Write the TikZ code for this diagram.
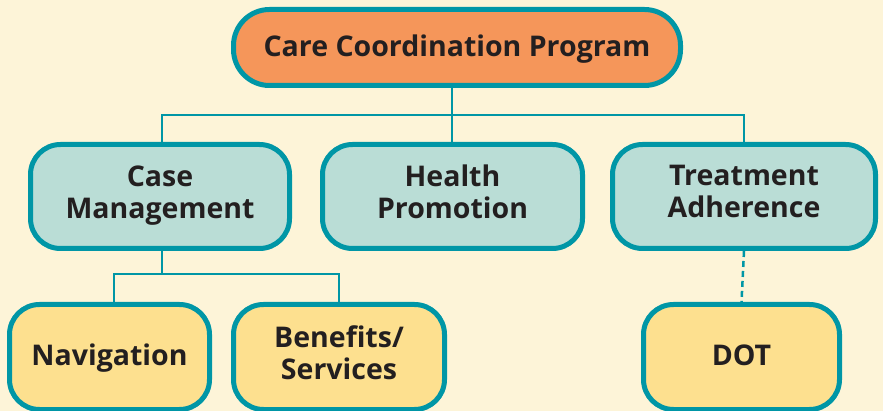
\documentclass[tikz,border=0pt]{standalone}
\usepackage{fontspec}
\setmainfont{Open Sans}
\definecolor{bgc}{HTML}{FDF4D8}
\definecolor{tealb}{HTML}{0096A6}
\definecolor{orangef}{HTML}{F5965A}
\definecolor{midf}{HTML}{BADDD6}
\definecolor{yelf}{HTML}{FDE08F}
\definecolor{txt}{HTML}{231F20}
\begin{document}
\begin{tikzpicture}[x=1pt,y=-1pt,
  box/.style={draw=tealb,line width=5pt,rounded corners=30pt,inner sep=0pt,align=center,
    text=txt,font=\bfseries\fontsize{28.5}{32}\selectfont,
    execute at begin node={\rule{0pt}{\dimexpr\ht\strutbox+5pt\relax}},
    execute at end node=\strut},
  topbox/.style={box,fill=orangef,rounded corners=36pt,minimum width=447pt,minimum height=76pt},
  midbox/.style={box,fill=midf,minimum height=104pt},
  lowbox/.style={box,fill=yelf,minimum height=105pt},
  link/.style={draw=tealb,line width=2pt},
  dlink/.style={draw=tealb,line width=2.5pt,dash pattern=on 6pt off 4pt}]
\fill[bgc] (0,0) rectangle (883,411);
\useasboundingbox (0,0) rectangle (883,411);
\node[topbox] (top) at (457,47.5) {Care Coordination Program};
\node[midbox,minimum width=259pt] (case) at (160,196.5) {Case\\Management};
\node[midbox,minimum width=260pt] (health) at (452.5,196.5) {Health\\Promotion};
\node[midbox,minimum width=263pt] (treat) at (744,196.5) {Treatment\\Adherence};
\node[lowbox,minimum width=200pt] (nav) at (109.5,357) {Navigation};
\node[lowbox,minimum width=211pt] (ben) at (339,357) {Benefits/\\Services};
\node[lowbox,minimum width=196pt] (dot) at (741.5,357) {DOT};
\coordinate (j1) at (452,115);
\coordinate (j2) at (162,274);
\coordinate (navtop) at (114,0);
\draw[link] (j1 |- top.south) -- (j1);
\draw[link] (j1) -- (health.north -| j1);
\draw[link] (case.north -| j2) |- (j1) -| (treat.north);
\draw[link] (case.south -| j2) -- (j2);
\draw[link] (nav.north -| navtop) |- (j2) -| (ben.north);
\draw[dlink] (treat.south) -- (dot.north);
\end{tikzpicture}
\end{document}
